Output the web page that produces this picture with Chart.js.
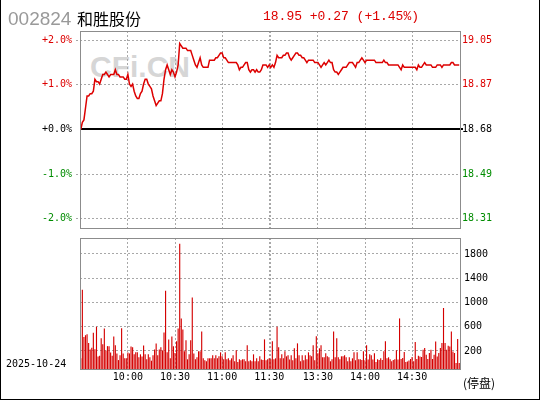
<!DOCTYPE html>
<html><head><meta charset="utf-8">
<script src="https://cdn.jsdelivr.net/npm/chart.js@4.4.1/dist/chart.umd.min.js"></script>
<style>
html,body{margin:0;padding:0;background:#fff;}
#wrap{position:relative;width:540px;height:400px;overflow:hidden;background:#fff;}
.frame{position:absolute;left:0;top:0;width:540px;height:400px;box-sizing:border-box;border-left:1px solid #000;border-right:1px solid #000;border-bottom:1px solid #000;pointer-events:none;}
.t{position:absolute;white-space:nowrap;line-height:1;}
canvas{position:absolute;left:0;}
</style></head>
<body><div id="wrap">
<div class="t" id="wm" style="left:90px;top:50px;font:bold 30px 'Liberation Sans';color:#d6d6d6;"></div>
<canvas id="pc" style="top:0" width="540" height="232"></canvas>
<canvas id="vc" style="top:232px" width="540" height="168"></canvas>
<div class="t" id="code" style="left:8px;top:8px;font:19px 'Liberation Sans';color:#999;"></div>
<div class="t" id="name" style="left:77px;top:6px;font:16px 'Noto Sans CJK SC';color:#000;"></div>
<div class="t" id="quote" style="left:263px;top:9px;font:13px 'Liberation Mono';color:#dd0000;"></div>
<div class="t" id="date" style="left:6px;top:358px;font:10px 'DejaVu Sans Mono';color:#000;"></div>
<div class="t" id="halt" style="left:463px;top:374px;font:12px 'Noto Sans CJK SC';color:#000;"></div>
<div class="frame"></div>
</div>
<script>
// ---------- data ----------
const stockCode = '002824';
const stockName = '和胜股份';
const quoteText = '18.95 +0.27 (+1.45%)';
const dateText = '2025-10-24';
const haltText = '(停盘)';
const watermark = 'CFi.CN';
const prevClose = 18.68;

function pad(n){return (n<10?'0':'')+n;}
const times = [];
for (let t = 9*60+30; t <= 11*60+30; t++) times.push(pad(Math.floor(t/60))+':'+pad(t%60));
for (let t = 13*60; t <= 15*60; t++) times.push(pad(Math.floor(t/60))+':'+pad(t%60));

const prices = [
18.68,18.71,18.72,18.77,18.82,18.82,18.83,18.83,18.84,18.89,
18.88,18.88,18.87,18.89,18.91,18.91,18.92,18.91,18.90,18.91,
18.91,18.91,18.93,18.91,18.91,18.90,18.90,18.90,18.89,18.89,
18.91,18.87,18.86,18.87,18.84,18.82,18.81,18.81,18.83,18.84,
18.87,18.89,18.89,18.87,18.86,18.85,18.82,18.80,18.78,18.79,
18.80,18.80,18.83,18.89,18.93,18.95,18.93,18.91,18.93,18.92,
18.90,18.92,18.95,19.04,19.03,19.02,19.02,19.02,19.01,19.01,
19.01,18.99,18.97,18.95,18.94,18.96,18.98,18.95,18.94,18.94,
18.94,18.94,18.97,18.97,18.97,18.97,18.98,18.98,18.99,19.00,
19.00,18.98,18.98,18.97,18.96,18.96,18.96,18.96,18.96,18.96,
18.95,18.93,18.94,18.94,18.95,18.96,18.96,18.93,18.92,18.93,
18.93,18.92,18.93,18.92,18.92,18.93,18.95,18.95,18.95,18.94,
18.95,18.94,18.95,18.94,18.96,18.99,18.98,18.98,18.98,18.99,
18.99,19.00,19.00,18.98,18.97,18.98,18.99,19.00,19.00,18.99,
18.99,18.98,18.98,18.97,18.96,18.97,18.97,18.97,18.97,18.96,
18.96,18.96,18.95,18.94,18.95,18.96,18.95,18.96,18.97,18.96,
18.96,18.93,18.92,18.92,18.91,18.92,18.93,18.94,18.94,18.94,
18.95,18.96,18.96,18.96,18.95,18.94,18.96,18.96,18.97,18.98,
18.97,18.96,18.97,18.97,18.97,18.97,18.97,18.97,18.96,18.96,
18.96,18.96,18.96,18.97,18.96,18.96,18.95,18.95,18.95,18.95,
18.95,18.95,18.95,18.94,18.93,18.95,18.94,18.94,18.94,18.94,
18.94,18.94,18.94,18.94,18.93,18.95,18.94,18.94,18.95,18.96,
18.95,18.95,18.95,18.95,18.94,18.94,18.94,18.95,18.95,18.95,
18.94,18.95,18.95,18.95,18.95,18.95,18.96,18.96,18.95,18.95,
18.95,18.95
];

const volumes = [
80,1210,430,460,475,330,225,255,500,230,
600,110,120,410,310,570,210,280,280,175,
120,440,295,160,50,130,575,160,80,80,
175,160,275,260,145,180,180,95,145,110,
290,145,65,145,95,40,130,225,325,130,
225,260,210,505,1195,180,390,80,440,277,
165,360,570,1970,737,556,195,375,63,145,
375,1080,160,63,96,195,195,520,79,47,
30,79,79,79,129,79,129,79,112,178,
112,63,178,63,79,47,79,129,30,211,
20,63,47,63,63,30,293,30,47,30,
145,30,79,30,112,60,50,392,47,63,
79,63,359,63,79,600,260,79,145,79,
195,112,129,60,129,47,244,79,326,129,
30,129,47,129,63,178,129,112,293,47,
441,162,244,293,96,96,162,112,96,30,
63,523,96,408,96,63,112,112,129,96,
30,96,30,79,178,47,178,63,63,50,
195,47,293,60,145,129,60,162,20,63,
50,79,50,195,359,80,96,63,30,50,
63,211,60,737,68,84,183,20,28,45,
68,101,30,348,68,122,111,101,221,249,
139,68,167,221,68,139,358,111,167,249,
332,909,332,221,287,276,523,193,167,0,
398,0
];

const gridTimes = ['10:00','10:30','11:00','11:30','13:00','13:30','14:00','14:30'];
const xTickLabels = ['10:00','10:30','11:00','11:30','13:30','14:00','14:30'];
const pctSteps = [-2,-1,0,1,2];
const pctTickLabels = ['-2.0%','-1.0%','+0.0%','+1.0%','+2.0%'];
const priceTickLabels = ['18.31','18.49','18.68','18.87','19.05'];
const volTickValues = [200,600,1000,1400,1800];
const volTickLabels = ['200','600','1000','1400','1800'];

// ---------- text ----------
document.getElementById('code').textContent = stockCode;
document.getElementById('name').textContent = stockName;
document.getElementById('quote').textContent = quoteText;
document.getElementById('date').textContent = dateText;
document.getElementById('halt').textContent = haltText;
document.getElementById('wm').textContent = watermark;

// ---------- style ----------
const RED = '#dd0000', BAR = '#d40000', GREEN = '#008c00', GRID = '#a8a8a8', BOX = '#8c8c8c';
const tickColors = [GREEN, GREEN, '#000', RED, RED];
const pctRange = 0.02205;
Chart.defaults.font.family = "'DejaVu Sans Mono', monospace";
Chart.defaults.font.size = 10;
Chart.defaults.color = '#000';

function fitV(s){ s.width = 80; s.paddingTop = 0; s.paddingBottom = 0; }
function fitH(h){ return s => { s.height = h; s.paddingLeft = 0; s.paddingRight = 0; }; }

const boxPlugin = {
  id: 'box',
  afterDatasetsDraw(chart) {
    const a = chart.chartArea, c = chart.ctx;
    c.save();
    c.strokeStyle = BOX; c.lineWidth = 1;
    c.strokeRect(a.left + 0.5, a.top + 0.5, a.right - a.left, a.bottom - a.top);
    c.restore();
  }
};
const zeroPlugin = {
  id: 'zero',
  beforeDatasetsDraw(chart) {
    const a = chart.chartArea, c = chart.ctx;
    const y = Math.round(chart.scales.y.getPixelForValue(prevClose));
    c.save(); c.fillStyle = '#000';
    c.fillRect(a.left, y - 1, a.right - a.left + 3, 2);
    c.restore();
  }
};

const xGrid = {
  color: ctx => gridTimes.includes(times[ctx.index]) ? GRID : 'rgba(0,0,0,0)',
  lineWidth: 1, drawTicks: false, offset: false
};

new Chart(document.getElementById('pc'), {
  type: 'line',
  data: { labels: times, datasets: [{
    data: prices, borderColor: RED, borderWidth: 1.5, pointRadius: 0, tension: 0, fill: false
  }]},
  options: {
    responsive: false, animation: false, events: [],
    layout: { padding: { top: 31, left: 0, right: 0, bottom: 0 } },
    plugins: { legend: { display: false }, tooltip: { enabled: false } },
    scales: {
      x: {
        type: 'category', offset: true,
        grid: xGrid, border: { display: false, dash: [2,2] },
        ticks: { display: false, autoSkip: false },
        afterFit: fitH(4)
      },
      y: {
        position: 'left', min: prevClose*(1-pctRange), max: prevClose*(1+pctRange),
        afterBuildTicks: s => { s.ticks = pctSteps.map(k => ({ value: prevClose*(1+k/100) })); },
        grid: {
          color: ctx => ctx.index === 2 ? 'rgba(0,0,0,0)' : GRID,
          tickColor: ctx => ctx.index === 2 ? 'rgba(0,0,0,0)' : GRID,
          drawTicks: true, tickLength: 4, tickBorderDash: [2,2]
        },
        border: { display: false, dash: [2,2] },
        ticks: { padding: 4, callback: (v, i) => pctTickLabels[i], color: ctx => tickColors[ctx.index] },
        afterFit: fitV
      },
      y2: {
        position: 'right', min: prevClose*(1-pctRange), max: prevClose*(1+pctRange),
        afterBuildTicks: s => { s.ticks = pctSteps.map(k => ({ value: prevClose*(1+k/100) })); },
        grid: { drawOnChartArea: false, drawTicks: false },
        border: { display: false },
        ticks: { padding: 2, callback: (v, i) => priceTickLabels[i], color: ctx => tickColors[ctx.index] },
        afterFit: fitV
      }
    }
  },
  plugins: [zeroPlugin, boxPlugin]
});

const volMin = -97, volMax = 2063;
new Chart(document.getElementById('vc'), {
  type: 'bar',
  data: { labels: times, datasets: [{
    data: volumes, base: volMin, backgroundColor: BAR, borderWidth: 0,
    barPercentage: 0.72, categoryPercentage: 1.0
  }]},
  options: {
    responsive: false, animation: false, events: [],
    layout: { padding: { top: 6, left: 80, right: 0, bottom: 0 } },
    plugins: { legend: { display: false }, tooltip: { enabled: false } },
    scales: {
      x: {
        type: 'category', offset: true,
        grid: xGrid, border: { display: false, dash: [2,2] },
        ticks: {
          autoSkip: false, maxRotation: 0, minRotation: 0, padding: 2,
          callback: (v, i) => xTickLabels.includes(times[i]) ? times[i] : ''
        },
        afterFit: fitH(31)
      },
      y: {
        position: 'right', min: volMin, max: volMax,
        afterBuildTicks: s => { s.ticks = volTickValues.map(v => ({ value: v })); },
        grid: { color: GRID, drawTicks: false },
        border: { display: false, dash: [2,2] },
        ticks: { padding: 4, callback: (v, i) => volTickLabels[i] },
        afterFit: fitV
      }
    }
  },
  plugins: [boxPlugin]
});
</script>
</body></html>
